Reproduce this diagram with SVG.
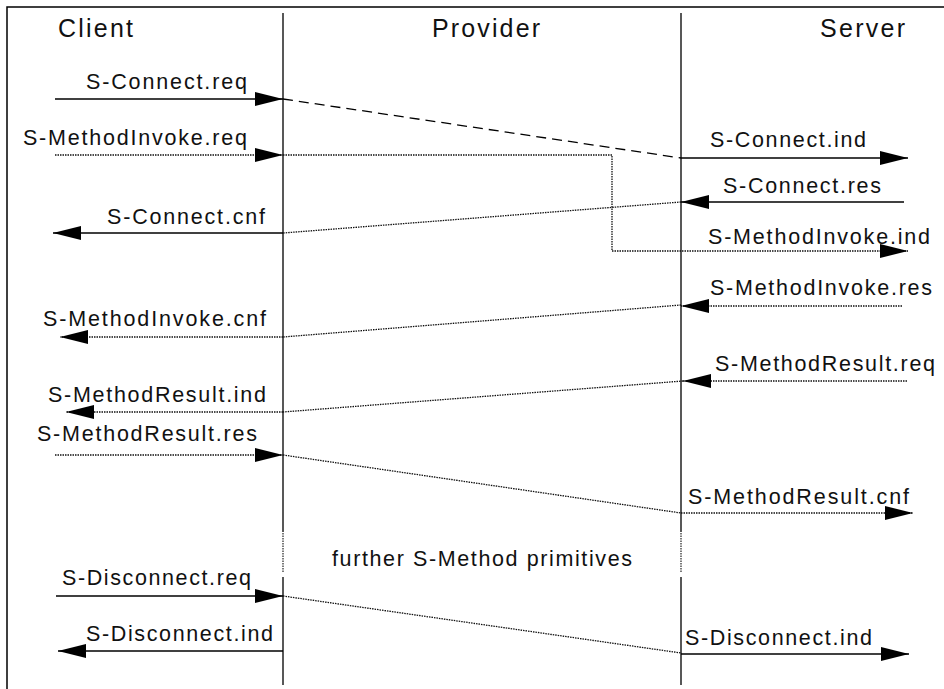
<svg xmlns="http://www.w3.org/2000/svg" width="944" height="689" viewBox="0 0 944 689">
  <defs>
    <marker id="ah" markerUnits="userSpaceOnUse" markerWidth="28" markerHeight="14" viewBox="0 0 28 14" refX="28" refY="7" orient="auto">
      <path d="M0,0 L28,7 L0,14 z" fill="#000"/>
    </marker>
    <style>
      .lbl { font-family: "Liberation Sans", Arial, Helvetica, sans-serif; font-size: 21.5px; fill: #111; }
      .hdr { font-family: "Liberation Sans", Arial, Helvetica, sans-serif; font-size: 25px; fill: #111; }
      .life { stroke: #222; stroke-width: 1.5; fill: none; }
      .lifedot { stroke: #333; stroke-width: 1.3; stroke-dasharray: 1.5 1; fill: none; }
      .solid { stroke: #000; stroke-width: 1.4; fill: none; }
      .dot { stroke: #111; stroke-width: 1.3; stroke-dasharray: 1.5 1; fill: none; }
      .dash { stroke: #000; stroke-width: 1.3; stroke-dasharray: 10 6; fill: none; }
      .frame { stroke: #000; stroke-width: 1.5; fill: none; }
      .arr { marker-end: url(#ah); }
    </style>
  </defs>
  <rect x="0" y="0" width="944" height="689" fill="#fff"/>

  <!-- frame -->
  <path class="frame" d="M7,689 L7,7 L944,7"/>

  <!-- lifelines / participants -->
  <g id="client">
    <text class="hdr" x="58" y="37" textLength="75" lengthAdjust="spacing">Client</text>
  </g>
  <g id="provider">
    <text class="hdr" x="432" y="37" textLength="108" lengthAdjust="spacing">Provider</text>
    <path class="life" d="M283,13 L283,532 M283,577 L283,685"/>
    <path class="lifedot" d="M283,533 L283,573"/>
  </g>
  <g id="server">
    <text class="hdr" x="820" y="37" textLength="85" lengthAdjust="spacing">Server</text>
    <path class="life" d="M681,13 L681,532 M681,577 L681,685"/>
    <path class="lifedot" d="M681,533 L681,573"/>
  </g>

  <!-- connectors -->
  <g id="connectors">
    <line class="solid arr" x1="55" y1="99" x2="283" y2="99"/>
    <line class="dash" x1="283" y1="99" x2="681" y2="158"/>
    <line class="solid arr" x1="681" y1="158" x2="908" y2="158"/>

    <line class="dot arr" x1="55" y1="155" x2="283" y2="155"/>
    <polyline class="dot arr" points="283,155 612,155 612,251 908,251"/>

    <line class="solid arr" x1="904" y1="202" x2="681" y2="202"/>
    <line class="dot" x1="681" y1="202" x2="283" y2="233"/>
    <line class="solid arr" x1="283" y1="233" x2="53" y2="233"/>

    <line class="dot arr" x1="902" y1="306" x2="681" y2="306"/>
    <line class="dot" x1="681" y1="305" x2="283" y2="337"/>
    <line class="dot arr" x1="283" y1="337" x2="60" y2="337"/>

    <line class="dot arr" x1="907" y1="381" x2="683" y2="381"/>
    <line class="dot" x1="683" y1="381" x2="283" y2="412"/>
    <line class="dot arr" x1="283" y1="412" x2="66" y2="412"/>

    <line class="dot arr" x1="55" y1="455" x2="283" y2="455"/>
    <line class="dot" x1="283" y1="455" x2="681" y2="513"/>
    <line class="dot arr" x1="681" y1="513" x2="913" y2="513"/>

    <line class="solid arr" x1="56" y1="596" x2="283" y2="596"/>
    <line class="dot" x1="283" y1="596" x2="681" y2="653"/>
    <line class="solid arr" x1="283" y1="651" x2="58" y2="651"/>
    <line class="solid arr" x1="681" y1="654" x2="909" y2="654"/>
  </g>

  <!-- labels -->
  <g id="m-connect-req"><text class="lbl" x="86" y="89" textLength="161" lengthAdjust="spacing">S-Connect.req</text></g>
  <g id="m-methodinvoke-req"><text class="lbl" x="23" y="145" textLength="224" lengthAdjust="spacing">S-MethodInvoke.req</text></g>
  <g id="m-connect-ind"><text class="lbl" x="710" y="147" textLength="156" lengthAdjust="spacing">S-Connect.ind</text></g>
  <g id="m-connect-res"><text class="lbl" x="723" y="193" textLength="158" lengthAdjust="spacing">S-Connect.res</text></g>
  <g id="m-connect-cnf"><text class="lbl" x="107" y="224" textLength="158" lengthAdjust="spacing">S-Connect.cnf</text></g>
  <g id="m-methodinvoke-ind"><text class="lbl" x="708" y="244" textLength="222" lengthAdjust="spacing">S-MethodInvoke.ind</text></g>
  <g id="m-methodinvoke-res"><text class="lbl" x="710" y="295" textLength="222" lengthAdjust="spacing">S-MethodInvoke.res</text></g>
  <g id="m-methodinvoke-cnf"><text class="lbl" x="43" y="326" textLength="223" lengthAdjust="spacing">S-MethodInvoke.cnf</text></g>
  <g id="m-methodresult-req"><text class="lbl" x="715" y="371" textLength="220" lengthAdjust="spacing">S-MethodResult.req</text></g>
  <g id="m-methodresult-ind"><text class="lbl" x="48" y="402" textLength="218" lengthAdjust="spacing">S-MethodResult.ind</text></g>
  <g id="m-methodresult-res"><text class="lbl" x="37" y="441" textLength="220" lengthAdjust="spacing">S-MethodResult.res</text></g>
  <g id="m-methodresult-cnf"><text class="lbl" x="688" y="504" textLength="221" lengthAdjust="spacing">S-MethodResult.cnf</text></g>
  <g id="further"><text class="lbl" x="332" y="566" textLength="300" lengthAdjust="spacing">further S-Method primitives</text></g>
  <g id="m-disconnect-req"><text class="lbl" x="62" y="585" textLength="189" lengthAdjust="spacing">S-Disconnect.req</text></g>
  <g id="m-disconnect-ind-c"><text class="lbl" x="86" y="641" textLength="187" lengthAdjust="spacing">S-Disconnect.ind</text></g>
  <g id="m-disconnect-ind-s"><text class="lbl" x="685" y="645" textLength="187" lengthAdjust="spacing">S-Disconnect.ind</text></g>
</svg>
